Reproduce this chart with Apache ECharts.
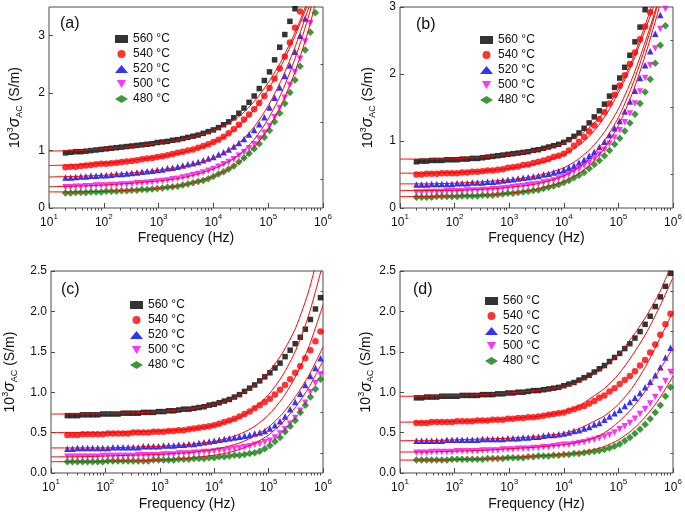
<!DOCTYPE html>
<html><head><meta charset="utf-8">
<script src="https://cdn.jsdelivr.net/npm/echarts@6/dist/echarts.min.js"></script>
<style>html,body{margin:0;padding:0;background:#fff}#c{width:685px;height:513px}</style>
</head><body><div id="c"></div>
<script>
// ---------- data ----------
const freq = [20,24.8,30.7,38.0,47.1,58.3,72.3,89.5,110.9,137.4,170.6,211,262,324,402,498,617,764,946,1172,1452,1799,2228,2761,3420,4246,5260,6516,8072,10000,12390,15350,19010,23550,29170,36140,44770,55460,68710,85110,105700,130900,162200,200900,248900,308300,381900,473100,586100,726100,899500];
const fitFreq = [10,17.78,31.62,56.23,100,177.8,316.2,562.3,1000,1778,3162,5623,10000,17780,31620,56230,100000,177800,316200,562300,1000000];
const temps = ['560 °C','540 °C','520 °C','500 °C','480 °C'];
const panelLabels = ['(a)','(b)','(c)','(d)'];
const xMinorTicks = [20,30,40,50,60,70,80,90,200,300,400,500,600,700,800,900,2e3,3e3,4e3,5e3,6e3,7e3,8e3,9e3,2e4,3e4,4e4,5e4,6e4,7e4,8e4,9e4,2e5,3e5,4e5,5e5,6e5,7e5,8e5,9e5];
const yMajorA = [0,1,2,3];
const yMinorA = [0.5,1.5,2.5];
const yMajorB = [0,1,2,3];
const yMinorB = [0.5,1.5,2.5];
const yMajorCD = [0,0.5,1,1.5,2,2.5];
const yMinorCD = [0.25,0.75,1.25,1.75,2.25];

// panel (a)
const a560 = [0.96,0.97,0.98,0.98,0.99,1.00,1.01,1.02,1.03,1.04,1.05,1.06,1.07,1.08,1.09,1.10,1.11,1.12,1.14,1.15,1.16,1.18,1.19,1.21,1.23,1.25,1.27,1.30,1.33,1.36,1.40,1.45,1.50,1.57,1.65,1.74,1.84,1.95,2.08,2.22,2.37,2.58,2.80,3.02,3.25,3.47,3.80,4.20,4.70,5.20,5.80];
const a540 = [0.71,0.72,0.72,0.73,0.74,0.75,0.76,0.77,0.77,0.78,0.79,0.80,0.81,0.82,0.83,0.85,0.86,0.87,0.89,0.90,0.92,0.94,0.96,0.98,1.00,1.02,1.05,1.08,1.11,1.15,1.19,1.24,1.30,1.37,1.45,1.54,1.63,1.72,1.83,1.95,2.09,2.25,2.43,2.64,2.88,3.14,3.42,3.75,4.10,4.50,5.00];
const a520 = [0.53,0.53,0.54,0.55,0.55,0.56,0.56,0.57,0.57,0.58,0.59,0.59,0.60,0.61,0.62,0.63,0.64,0.65,0.66,0.67,0.69,0.70,0.72,0.74,0.76,0.78,0.80,0.83,0.86,0.89,0.93,0.97,1.02,1.07,1.13,1.20,1.28,1.36,1.46,1.58,1.75,1.92,2.10,2.30,2.48,2.72,3.00,3.30,3.62,3.95,4.30];
const a500 = [0.36,0.36,0.37,0.37,0.38,0.38,0.39,0.39,0.39,0.40,0.40,0.41,0.41,0.42,0.43,0.43,0.44,0.45,0.46,0.47,0.48,0.50,0.51,0.53,0.55,0.57,0.59,0.62,0.65,0.68,0.72,0.76,0.80,0.85,0.91,0.97,1.04,1.11,1.21,1.31,1.43,1.58,1.74,1.92,2.14,2.37,2.60,2.90,3.22,3.55,3.90];
const a480 = [0.26,0.26,0.27,0.27,0.27,0.28,0.28,0.28,0.29,0.29,0.29,0.30,0.30,0.31,0.31,0.32,0.32,0.33,0.34,0.35,0.36,0.37,0.38,0.40,0.42,0.44,0.46,0.48,0.51,0.55,0.59,0.63,0.68,0.73,0.80,0.87,0.95,1.03,1.12,1.23,1.35,1.50,1.65,1.82,2.01,2.23,2.47,2.75,3.06,3.40,3.78];
const fa560 = [0.99,0.995,1.00,1.015,1.03,1.05,1.07,1.10,1.13,1.165,1.21,1.27,1.35,1.46,1.62,1.86,2.18,2.58,3.08,3.68,4.40];
const fa540 = [0.74,0.745,0.75,0.765,0.78,0.80,0.83,0.86,0.89,0.93,0.98,1.05,1.14,1.27,1.46,1.72,2.06,2.50,3.02,3.62,4.30];
const fa520 = [0.54,0.545,0.55,0.56,0.57,0.59,0.61,0.63,0.66,0.69,0.73,0.79,0.87,0.99,1.16,1.42,1.78,2.25,2.83,3.52,4.30];
const fa500 = [0.37,0.375,0.38,0.39,0.40,0.415,0.43,0.45,0.47,0.50,0.54,0.60,0.68,0.79,0.95,1.20,1.55,2.02,2.63,3.38,4.30];
const fa480 = [0.28,0.28,0.28,0.285,0.29,0.30,0.31,0.32,0.34,0.37,0.41,0.47,0.55,0.66,0.82,1.06,1.38,1.82,2.40,3.15,4.10];

// panel (b)
const b560 = [0.69,0.70,0.70,0.71,0.71,0.71,0.72,0.72,0.72,0.73,0.73,0.74,0.74,0.75,0.76,0.77,0.78,0.79,0.80,0.81,0.82,0.83,0.84,0.86,0.87,0.89,0.91,0.93,0.95,0.98,1.02,1.07,1.12,1.19,1.27,1.36,1.45,1.55,1.67,1.80,1.94,2.10,2.28,2.48,2.70,2.96,3.25,3.60,4.00,4.40,4.90];
const b540 = [0.50,0.50,0.51,0.51,0.51,0.52,0.52,0.52,0.52,0.53,0.53,0.54,0.54,0.55,0.56,0.56,0.57,0.58,0.60,0.61,0.62,0.64,0.65,0.67,0.69,0.71,0.73,0.76,0.78,0.81,0.86,0.93,0.99,1.06,1.14,1.23,1.33,1.43,1.56,1.69,1.83,1.98,2.15,2.32,2.52,2.71,2.92,3.15,3.40,3.70,4.00];
const b520 = [0.35,0.35,0.35,0.36,0.36,0.36,0.36,0.36,0.37,0.37,0.37,0.38,0.38,0.38,0.39,0.39,0.40,0.41,0.42,0.43,0.44,0.45,0.46,0.47,0.48,0.50,0.51,0.53,0.55,0.57,0.60,0.63,0.68,0.72,0.78,0.84,0.91,0.99,1.09,1.19,1.30,1.44,1.59,1.75,1.94,2.13,2.34,2.60,2.88,3.15,3.45];
const b500 = [0.23,0.23,0.24,0.24,0.24,0.24,0.25,0.25,0.25,0.25,0.26,0.26,0.26,0.27,0.27,0.28,0.28,0.29,0.30,0.31,0.32,0.33,0.34,0.35,0.36,0.38,0.39,0.41,0.44,0.47,0.50,0.54,0.58,0.63,0.68,0.74,0.80,0.87,0.96,1.05,1.16,1.28,1.41,1.56,1.74,1.94,2.13,2.38,2.67,2.97,3.30];
const b480 = [0.16,0.16,0.16,0.16,0.17,0.17,0.17,0.17,0.17,0.18,0.18,0.18,0.18,0.19,0.19,0.19,0.20,0.21,0.22,0.22,0.23,0.24,0.25,0.26,0.27,0.29,0.31,0.33,0.35,0.38,0.41,0.45,0.49,0.53,0.59,0.65,0.71,0.78,0.86,0.95,1.04,1.15,1.27,1.40,1.56,1.73,1.92,2.16,2.43,2.72,3.05];
const fb560 = [0.73,0.73,0.73,0.73,0.735,0.745,0.76,0.78,0.80,0.83,0.86,0.905,0.97,1.07,1.22,1.45,1.77,2.20,2.75,3.38,4.10];
const fb540 = [0.52,0.52,0.52,0.525,0.53,0.54,0.55,0.57,0.59,0.62,0.66,0.72,0.80,0.92,1.10,1.36,1.72,2.15,2.68,3.25,3.95];
const fb520 = [0.36,0.36,0.36,0.365,0.37,0.38,0.39,0.405,0.42,0.445,0.48,0.53,0.60,0.72,0.89,1.14,1.48,1.93,2.50,3.15,3.90];
const fb500 = [0.26,0.26,0.26,0.26,0.26,0.27,0.28,0.29,0.31,0.33,0.36,0.41,0.48,0.59,0.76,1.01,1.35,1.82,2.42,3.12,3.90];
const fb480 = [0.17,0.17,0.17,0.175,0.18,0.185,0.19,0.20,0.22,0.245,0.28,0.33,0.39,0.50,0.66,0.90,1.23,1.70,2.30,3.00,3.80];

// panel (c)
const c560 = [0.71,0.71,0.71,0.72,0.72,0.72,0.72,0.73,0.73,0.73,0.73,0.74,0.74,0.74,0.74,0.75,0.75,0.75,0.76,0.76,0.77,0.77,0.78,0.79,0.79,0.80,0.81,0.82,0.84,0.85,0.87,0.89,0.91,0.94,0.97,1.01,1.05,1.09,1.14,1.19,1.24,1.30,1.36,1.44,1.52,1.60,1.68,1.78,1.90,2.03,2.17];
const c540 = [0.47,0.47,0.47,0.48,0.48,0.48,0.48,0.48,0.49,0.49,0.49,0.49,0.49,0.50,0.50,0.50,0.50,0.51,0.51,0.51,0.52,0.52,0.53,0.53,0.54,0.55,0.56,0.57,0.58,0.59,0.61,0.63,0.65,0.67,0.70,0.73,0.76,0.80,0.84,0.88,0.92,0.97,1.03,1.09,1.16,1.24,1.32,1.42,1.52,1.63,1.75];
const c520 = [0.30,0.30,0.31,0.31,0.31,0.31,0.31,0.31,0.31,0.32,0.32,0.32,0.32,0.32,0.32,0.33,0.33,0.33,0.33,0.34,0.34,0.34,0.35,0.35,0.36,0.36,0.37,0.38,0.39,0.40,0.41,0.42,0.43,0.44,0.45,0.46,0.47,0.49,0.50,0.52,0.55,0.59,0.64,0.70,0.79,0.88,0.98,1.09,1.20,1.30,1.42];
const c500 = [0.20,0.20,0.20,0.20,0.20,0.20,0.20,0.21,0.21,0.21,0.21,0.21,0.21,0.21,0.22,0.22,0.22,0.22,0.22,0.23,0.23,0.23,0.24,0.24,0.24,0.25,0.25,0.26,0.26,0.27,0.28,0.28,0.29,0.30,0.31,0.32,0.33,0.35,0.36,0.38,0.40,0.44,0.49,0.54,0.61,0.68,0.77,0.87,1.00,1.11,1.22];
const c480 = [0.14,0.14,0.14,0.14,0.14,0.14,0.14,0.14,0.15,0.15,0.15,0.15,0.15,0.15,0.15,0.15,0.15,0.16,0.16,0.16,0.16,0.16,0.17,0.17,0.17,0.18,0.18,0.18,0.19,0.19,0.20,0.20,0.21,0.22,0.22,0.23,0.24,0.25,0.27,0.30,0.34,0.39,0.44,0.51,0.58,0.65,0.75,0.84,0.94,1.04,1.16];
const fc560 = [0.73,0.73,0.73,0.73,0.735,0.74,0.745,0.75,0.76,0.775,0.79,0.815,0.85,0.90,0.98,1.09,1.25,1.48,1.80,2.28,2.95];
const fc540 = [0.50,0.50,0.50,0.50,0.50,0.505,0.51,0.515,0.52,0.53,0.54,0.56,0.59,0.635,0.70,0.81,0.97,1.20,1.52,1.98,2.60];
const fc520 = [0.31,0.31,0.31,0.31,0.31,0.315,0.32,0.325,0.33,0.34,0.35,0.37,0.39,0.43,0.49,0.58,0.72,0.92,1.20,1.58,2.08];
const fc500 = [0.20,0.20,0.20,0.205,0.21,0.215,0.22,0.225,0.23,0.24,0.25,0.27,0.29,0.33,0.38,0.46,0.57,0.73,0.95,1.22,1.56];
const fc480 = [0.14,0.14,0.14,0.14,0.145,0.15,0.15,0.155,0.16,0.17,0.18,0.20,0.22,0.25,0.30,0.37,0.47,0.62,0.82,1.07,1.39];

// panel (d)
const d560 = [0.93,0.93,0.94,0.94,0.94,0.95,0.95,0.95,0.95,0.96,0.96,0.96,0.96,0.97,0.97,0.97,0.98,0.98,0.99,0.99,1.00,1.00,1.01,1.02,1.02,1.03,1.04,1.05,1.06,1.08,1.10,1.12,1.15,1.18,1.21,1.25,1.29,1.33,1.38,1.43,1.48,1.54,1.60,1.67,1.75,1.84,1.94,2.06,2.18,2.31,2.47];
const d540 = [0.62,0.62,0.62,0.63,0.63,0.63,0.63,0.63,0.64,0.64,0.64,0.64,0.65,0.65,0.65,0.66,0.66,0.66,0.67,0.67,0.68,0.68,0.69,0.69,0.70,0.71,0.72,0.73,0.74,0.75,0.77,0.79,0.81,0.83,0.86,0.89,0.93,0.96,1.01,1.05,1.10,1.15,1.20,1.26,1.33,1.40,1.49,1.59,1.71,1.84,1.97];
const d520 = [0.40,0.40,0.40,0.40,0.40,0.40,0.41,0.41,0.41,0.41,0.41,0.41,0.41,0.42,0.42,0.42,0.42,0.42,0.43,0.43,0.43,0.44,0.44,0.45,0.45,0.46,0.47,0.47,0.48,0.49,0.50,0.52,0.53,0.55,0.57,0.60,0.62,0.66,0.70,0.74,0.78,0.83,0.88,0.93,0.99,1.06,1.13,1.21,1.31,1.43,1.55];
const d500 = [0.25,0.25,0.25,0.26,0.26,0.26,0.26,0.26,0.27,0.27,0.27,0.27,0.27,0.28,0.28,0.28,0.28,0.29,0.29,0.29,0.30,0.30,0.30,0.31,0.31,0.32,0.32,0.33,0.34,0.35,0.35,0.36,0.37,0.38,0.40,0.41,0.43,0.45,0.47,0.50,0.54,0.58,0.62,0.67,0.73,0.79,0.86,0.94,1.04,1.14,1.25];
const d480 = [0.16,0.16,0.16,0.16,0.16,0.16,0.16,0.17,0.17,0.17,0.17,0.17,0.17,0.17,0.18,0.18,0.18,0.18,0.19,0.19,0.19,0.19,0.20,0.20,0.21,0.21,0.21,0.22,0.22,0.23,0.23,0.24,0.24,0.25,0.26,0.27,0.28,0.29,0.31,0.33,0.36,0.40,0.44,0.49,0.54,0.60,0.67,0.75,0.84,0.95,1.06];
const fd560 = [0.95,0.95,0.95,0.955,0.96,0.965,0.97,0.98,0.99,1.005,1.02,1.04,1.07,1.12,1.20,1.31,1.47,1.68,1.93,2.23,2.62];
const fd540 = [0.63,0.63,0.63,0.635,0.64,0.645,0.65,0.66,0.67,0.685,0.70,0.725,0.76,0.82,0.93,1.05,1.22,1.45,1.72,2.05,2.42];
const fd520 = [0.40,0.40,0.40,0.405,0.41,0.415,0.42,0.425,0.43,0.44,0.45,0.47,0.49,0.54,0.62,0.71,0.85,1.05,1.32,1.65,2.00];
const fd500 = [0.26,0.26,0.26,0.265,0.27,0.275,0.28,0.29,0.30,0.31,0.32,0.335,0.35,0.38,0.42,0.50,0.63,0.80,1.02,1.27,1.55];
const fd480 = [0.16,0.16,0.16,0.16,0.165,0.17,0.17,0.18,0.19,0.20,0.21,0.22,0.23,0.25,0.28,0.33,0.41,0.53,0.70,0.92,1.20];

// ---------- layout & style ----------
const FONT = '"Liberation Sans", Arial, Helvetica, sans-serif';
const symbols = ['rect','circle','triangle','path://M0,0L10,0L5,8.66Z','diamond'];
const symSizes = [5.5,6.5,6.5,6.5,7.5];
const colors = ['#000000','#ff0000','#0000ff','#ff00ff','#0a800a'];
const panels = [
  {vals:[a560,a540,a520,a500,a480], fits:[fa560,fa540,fa520,fa500,fa480], yMax:3.5, yMajor:yMajorA, yMinor:yMinorA, dec:0,
   grid:{left:49,top:7,width:274,height:201}, yNameGap:25, xNameGap:23, legend:{left:115,top:33}, label:{left:60,top:16}},
  {vals:[b560,b540,b520,b500,b480], fits:[fb560,fb540,fb520,fb500,fb480], yMax:3, yMajor:yMajorB, yMinor:yMinorB, dec:0,
   grid:{left:400,top:7,width:273,height:201}, yNameGap:23, xNameGap:23, legend:{left:480,top:34}, label:{left:416,top:17}},
  {vals:[c560,c540,c520,c500,c480], fits:[fc560,fc540,fc520,fc500,fc480], yMax:2.5, yMajor:yMajorCD, yMinor:yMinorCD, dec:1,
   grid:{left:49,top:271,width:274,height:202}, yNameGap:32, xNameGap:24, legend:{left:130,top:299}, label:{left:61,top:282}},
  {vals:[d560,d540,d520,d500,d480], fits:[fd560,fd540,fd520,fd500,fd480], yMax:2.5, yMajor:yMajorCD, yMinor:yMinorCD, dec:1,
   grid:{left:400,top:271,width:273,height:202}, yNameGap:24, xNameGap:24, legend:{left:485,top:295}, label:{left:413,top:282}}
];

const grids=[], xAxes=[], yAxes=[], series=[], legends=[], titles=[];
panels.forEach((p, i) => {
  grids.push(Object.assign({show:true, borderColor:'#4a4a4a', borderWidth:1, containLabel:false}, p.grid));
  xAxes.push({
    type:'log', logBase:10, min:10, max:1e6, gridIndex:i, splitNumber:5,
    axisLine:{show:false}, splitLine:{show:false},
    axisTick:{show:true, inside:true, length:5, lineStyle:{color:'#4a4a4a'}},
    axisLabel:{margin:5, color:'#111', fontFamily:FONT, fontSize:12,
      formatter: v => '{b|10}{s|' + Math.round(Math.log10(v)) + '}',
      rich:{b:{fontSize:12, fontFamily:FONT, color:'#111', lineHeight:16, verticalAlign:'bottom'},
            s:{fontSize:8, fontFamily:FONT, color:'#111', lineHeight:16, verticalAlign:'top'}}},
    name:'Frequency (Hz)', nameLocation:'middle', nameGap:p.xNameGap,
    nameTextStyle:{fontSize:14, fontFamily:FONT, color:'#111'}
  });
  xAxes.push({
    type:'log', logBase:10, min:10, max:1e6, gridIndex:i,
    axisLine:{show:false}, splitLine:{show:false}, axisLabel:{show:false},
    axisTick:{show:true, inside:true, length:2.5, customValues:xMinorTicks, lineStyle:{color:'#4a4a4a'}}
  });
  yAxes.push({
    type:'value', min:0, max:p.yMax, gridIndex:i,
    axisLine:{show:false}, splitLine:{show:false},
    axisTick:{show:true, inside:true, length:4, customValues:p.yMajor, lineStyle:{color:'#4a4a4a'}},
    axisLabel:{margin:4, color:'#111', fontFamily:FONT, fontSize:12, customValues:p.yMajor,
      formatter: v => Number(v).toFixed(p.dec)},
    name:'10{s|3}{g|σ}{u|AC} (S/m)', nameLocation:'middle', nameGap:p.yNameGap, nameRotate:90,
    nameTextStyle:{fontSize:14, fontFamily:FONT, color:'#111',
      rich:{s:{fontSize:9, fontFamily:FONT, color:'#111', verticalAlign:'top', lineHeight:16},
            g:{fontSize:16, fontFamily:FONT, fontStyle:'italic', color:'#111', lineHeight:18},
            u:{fontSize:9, fontFamily:FONT, color:'#111', verticalAlign:'bottom', lineHeight:14}}}
  });
  yAxes.push({
    type:'value', min:0, max:p.yMax, gridIndex:i,
    axisLine:{show:false}, splitLine:{show:false}, axisLabel:{show:false},
    axisTick:{show:true, inside:true, length:2.5, customValues:p.yMinor, lineStyle:{color:'#4a4a4a'}}
  });
  p.vals.forEach((vals, j) => {
    series.push({
      type:'scatter', name:temps[j], xAxisIndex:2*i, yAxisIndex:2*i,
      data: freq.map((f, k) => [f, vals[k]]),
      symbol:symbols[j], symbolSize:symSizes[j],
      itemStyle:{color:colors[j]}, z:2, clip:true
    });
  });
  p.fits.forEach((vals) => {
    series.push({
      type:'line', name:'fit', xAxisIndex:2*i, yAxisIndex:2*i,
      data: fitFreq.map((f, k) => [f, vals[k]]),
      showSymbol:false, symbol:'none', smooth:0.25,
      lineStyle:{color:'#ff0000', width:1}, z:3, clip:true, silent:true
    });
  });
  legends.push({
    data:temps, orient:'vertical', left:p.legend.left, top:p.legend.top,
    itemWidth:13, itemHeight:8, itemGap:3, padding:0, selectedMode:false,
    textStyle:{fontSize:12, fontFamily:FONT, color:'#111'}
  });
  titles.push({text:panelLabels[i], left:p.label.left, top:p.label.top, padding:0,
    textStyle:{fontSize:16, fontWeight:'normal', fontFamily:FONT, color:'#111'}});
});

const chart = echarts.init(document.getElementById('c'), null, {renderer:'canvas'});
chart.setOption({
  animation:false,
  backgroundColor:'#ffffff',
  textStyle:{fontFamily:FONT},
  title:titles, grid:grids, xAxis:xAxes, yAxis:yAxes, legend:legends, series:series
});
</script></body></html>
